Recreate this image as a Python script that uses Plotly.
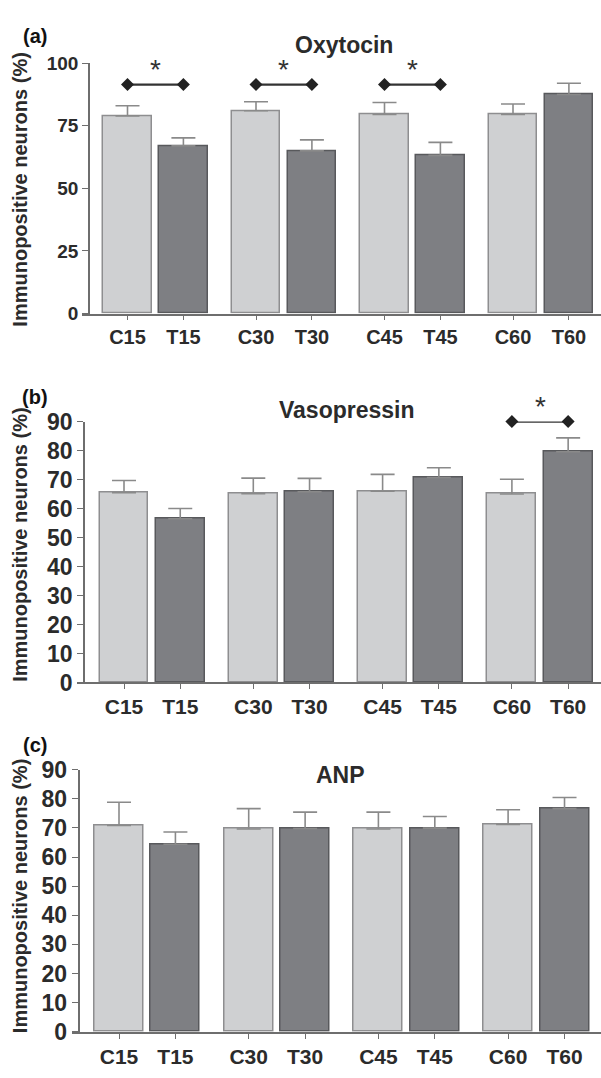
import plotly.graph_objects as go

# ---------------- data ----------------
ctrl_labels = ["C15", "C30", "C45", "C60"]
treat_labels = ["T15", "T30", "T45", "T60"]

oxy_c = [79.0, 81.0, 79.5, 79.5]
oxy_c_err = [4.0, 3.6, 4.8, 4.2]
oxy_t = [67.0, 65.0, 63.2, 87.5]
oxy_t_err = [3.2, 4.4, 5.2, 4.5]
oxy_sig = [True, True, True, False]

vaso_c = [65.5, 65.1, 66.0, 65.0]
vaso_c_err = [4.2, 5.4, 5.8, 5.1]
vaso_t = [56.5, 65.8, 70.7, 79.6]
vaso_t_err = [3.5, 4.6, 3.4, 4.8]
vaso_sig = [False, False, False, True]

anp_c = [70.8, 69.6, 69.6, 71.2]
anp_c_err = [8.0, 7.0, 5.8, 5.0]
anp_t = [64.4, 69.8, 69.9, 76.6]
anp_t_err = [4.2, 5.6, 4.0, 3.8]
anp_sig = [False, False, False, False]

panel_titles = ["Oxytocin", "Vasopressin", "ANP"]
panel_tags = ["(a)", "(b)", "(c)"]
y_title = "Immunopositive neurons (%)"
oxy_ticks = [0, 25, 50, 75, 100]
other_ticks = [0, 10, 20, 30, 40, 50, 60, 70, 80, 90]

# ---------------- layout helpers ----------------
W, H = 601, 1078
FONT = "Liberation Sans, Arial, sans-serif"
TXT = "#2b2b2b"
AX = "#6e6e6e"
C_FILL, C_EDGE = "#cfd0d2", "#8e8e90"
T_FILL, T_EDGE = "#7e7f83", "#58595c"
ERR = "#8a8a8a"

def px_x(x):
    return x / W

def px_y(y):
    return 1 - y / H

# per panel geometry in pixels: y-axis x, first bar centre, group step, y(0), y(top)
panels = [
    dict(c=oxy_c, ce=oxy_c_err, t=oxy_t, te=oxy_t_err, sig=oxy_sig, ticks=oxy_ticks, ymax=100,
         ly=89, c0=127.5, step=128.5, y0=308, ytop=51.5, sig_level=91.5, ytfs=19, xtfs=20,
         title_xy=(344, 33), tag_xy=(35, 24), ytitle_y=181),
    dict(c=vaso_c, ce=vaso_c_err, t=vaso_t, te=vaso_t_err, sig=vaso_sig, ticks=other_ticks, ymax=90,
         ly=84, c0=124, step=129.3, y0=686, ytop=418.7, sig_level=90, ytfs=23, xtfs=21,
         title_xy=(347, 407), tag_xy=(35, 393), ytitle_y=545),
    dict(c=anp_c, ce=anp_c_err, t=anp_t, te=anp_t_err, sig=anp_sig, ticks=other_ticks, ymax=90,
         ly=78.5, c0=119, step=129.7, y0=1044, ytop=775.3, sig_level=90, ytfs=23, xtfs=21,
         title_xy=(340, 781), tag_xy=(35, 750), ytitle_y=905),
]

WITHIN = 0.435
BARW = 0.378

fig = go.Figure()
annotations = []
layout = {}

for i, p in enumerate(panels):
    n = "" if i == 0 else str(i + 1)
    xa, ya = "x" + n, "y" + n
    xc = [g for g in range(len(p["c"]))]
    xt = [g + WITHIN for g in range(len(p["t"]))]

    fig.add_trace(go.Bar(
        x=xc, y=p["c"], width=BARW, xaxis=xa, yaxis=ya,
        marker=dict(color=C_FILL, line=dict(color=C_EDGE, width=1.5)),
        error_y=dict(type="data", array=p["ce"], arrayminus=[0] * len(p["ce"]), symmetric=False,
                     color=ERR, thickness=1.6, width=12),
        showlegend=False))
    fig.add_trace(go.Bar(
        x=xt, y=p["t"], width=BARW, xaxis=xa, yaxis=ya,
        marker=dict(color=T_FILL, line=dict(color=T_EDGE, width=1.5)),
        error_y=dict(type="data", array=p["te"], arrayminus=[0] * len(p["te"]), symmetric=False,
                     color=ERR, thickness=1.6, width=12),
        showlegend=False))

    for g, s in enumerate(p["sig"]):
        if s:
            fig.add_trace(go.Scatter(
                x=[xc[g], xt[g]], y=[p["sig_level"], p["sig_level"]], xaxis=xa, yaxis=ya,
                mode="lines+markers", cliponaxis=False,
                line=dict(color="#333333", width=2.2),
                marker=dict(symbol="diamond", size=10, color="#222222"),
                showlegend=False, hoverinfo="skip"))
            annotations.append(dict(
                x=(xc[g] + xt[g]) / 2, y=p["sig_level"], xref=xa, yref=ya,
                text="*", showarrow=False, yanchor="bottom", yshift=-2,
                font=dict(family=FONT, size=28, color="#333333")))

    xl = p["ly"] - 7
    xr_units = (W - p["c0"]) / p["step"]
    xl_units = (xl - p["c0"]) / p["step"]
    tickvals, ticktext = [], []
    for g in range(len(p["c"])):
        tickvals += [xc[g], xt[g]]
        ticktext += [ctrl_labels[g], treat_labels[g]]

    layout["xaxis" + n] = dict(
        domain=[px_x(xl), 1], range=[xl_units, xr_units], anchor=ya,
        tickmode="array", tickvals=tickvals, ticktext=ticktext,
        showline=True, linecolor=AX, linewidth=1.6, ticks="outside", ticklen=5,
        tickcolor=AX, tickwidth=1.4, showgrid=False, zeroline=False,
        tickfont=dict(family=FONT, size=p["xtfs"], color=TXT, weight="bold"))
    layout["yaxis" + n] = dict(
        domain=[px_y(p["y0"]), px_y(p["ytop"])], range=[0, p["ymax"]],
        anchor="free", position=px_x(p["ly"]),
        tickmode="array", tickvals=p["ticks"],
        showline=True, linecolor=AX, linewidth=1.6, ticks="outside", ticklen=6,
        tickcolor=AX, tickwidth=1.4, showgrid=False, zeroline=False,
        tickfont=dict(family=FONT, size=p["ytfs"], color=TXT, weight="bold"))

    annotations.append(dict(
        x=px_x(p["title_xy"][0]), y=px_y(p["title_xy"][1]), xref="paper", yref="paper",
        text=panel_titles[i], showarrow=False, xanchor="center", yanchor="middle",
        font=dict(family=FONT, size=23, color=TXT, weight="bold")))
    annotations.append(dict(
        x=px_x(p["tag_xy"][0]), y=px_y(p["tag_xy"][1]), xref="paper", yref="paper",
        text=panel_tags[i], showarrow=False, xanchor="center", yanchor="middle",
        font=dict(family=FONT, size=20, color="#111111", weight="bold")))
    annotations.append(dict(
        x=px_x(20), y=px_y(p["ytitle_y"]), xref="paper", yref="paper",
        text=y_title, showarrow=False, textangle=-90, xanchor="center", yanchor="middle",
        font=dict(family=FONT, size=20, color=TXT, weight="bold")))

fig.update_layout(
    width=W, height=H, autosize=False,
    margin=dict(l=0, r=0, t=0, b=0),
    paper_bgcolor="white", plot_bgcolor="white",
    barmode="overlay", bargap=0,
    annotations=annotations,
    **layout)

fig.write_html("out.html", config={"displayModeBar": False},
               post_script="document.body.style.margin='0';")
